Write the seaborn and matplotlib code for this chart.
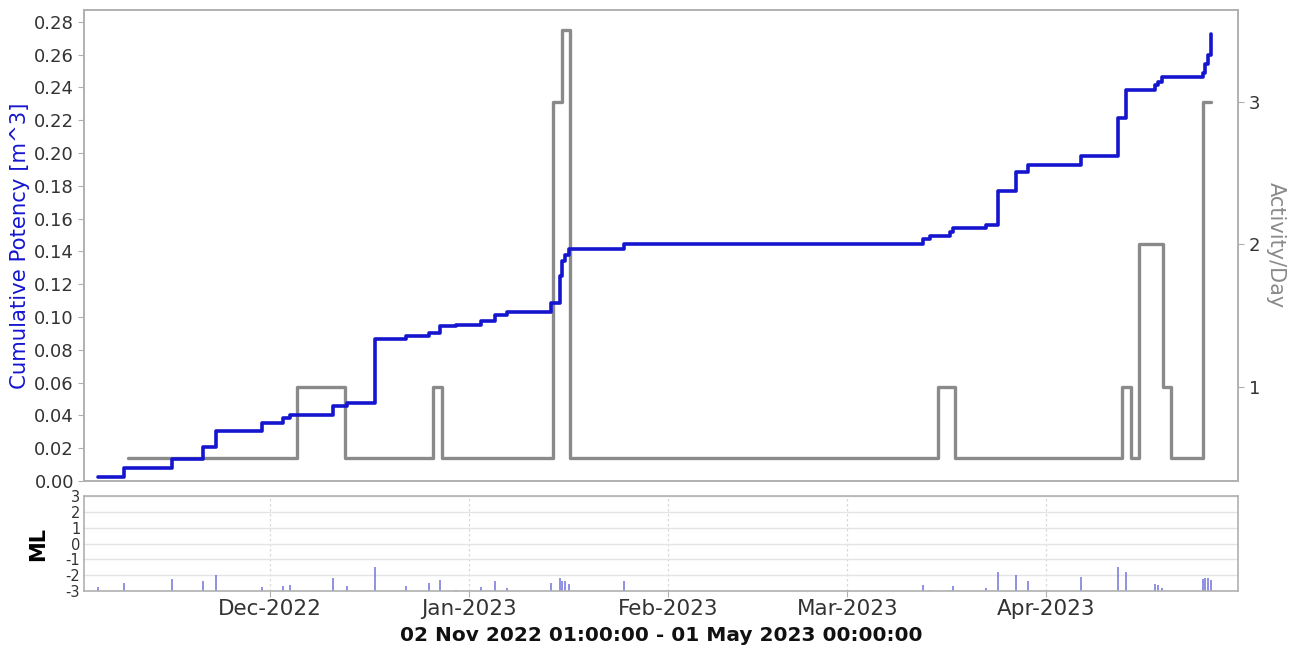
import matplotlib
matplotlib.use("Agg")
import matplotlib.pyplot as plt
import matplotlib.dates as mdates
import pandas as pd
import seaborn as sns

# Events: time, local magnitude, cumulative potency after event
event_times = [
    "2022-11-04 04:00", "2022-11-08 05:00", "2022-11-15 16:00", "2022-11-20 12:00",
    "2022-11-22 15:00", "2022-11-29 16:00", "2022-12-02 23:00", "2022-12-04 02:00",
    "2022-12-10 20:00", "2022-12-12 23:00", "2022-12-17 09:00", "2022-12-22 04:00",
    "2022-12-25 17:00", "2022-12-27 11:00", "2022-12-29 23:00", "2023-01-02 23:00",
    "2023-01-05 01:00", "2023-01-06 23:00", "2023-01-13 18:00", "2023-01-15 04:00",
    "2023-01-15 13:00", "2023-01-16 00:00", "2023-01-16 16:00", "2023-01-25 06:00",
    "2023-03-12 21:00", "2023-03-13 23:00", "2023-03-16 23:00", "2023-03-17 11:00",
    "2023-03-22 16:00", "2023-03-24 11:00", "2023-03-27 08:00", "2023-03-29 04:00",
    "2023-04-06 10:00", "2023-04-12 07:00", "2023-04-13 13:00", "2023-04-17 23:00",
    "2023-04-18 12:00", "2023-04-19 00:00", "2023-04-25 12:00", "2023-04-25 18:00",
    "2023-04-26 07:00", "2023-04-26 19:00",
]
ml_values = [
    -2.75, -2.47, -2.26, -2.36, -2.0, -2.72, -2.7, -2.65,
    -2.2, -2.7, -1.47, -2.7, -2.5, -2.3, -2.95, -2.75,
    -2.4, -2.8, -2.5, -2.15, -2.35, -2.4, -2.55, -2.35,
    -2.65, -2.95, -2.95, -2.7, -2.8, -1.83, -1.98, -2.36,
    -2.1, -1.5, -1.83, -2.57, -2.65, -2.8, -2.25, -2.2,
    -2.2, -2.3,
]
cum_potency = [
    0.0024, 0.0077, 0.0132, 0.0209, 0.0304, 0.0355, 0.0385, 0.0400,
    0.0457, 0.0477, 0.0866, 0.0887, 0.0903, 0.0943, 0.0953, 0.0974,
    0.1010, 0.1029, 0.1086, 0.1250, 0.1340, 0.1380, 0.1417, 0.1446,
    0.1475, 0.1495, 0.1520, 0.1540, 0.1558, 0.1770, 0.1883, 0.1924,
    0.1980, 0.2215, 0.2385, 0.2414, 0.2436, 0.2465, 0.2490, 0.2540,
    0.2597, 0.2728,
]

# Activity per day (step changes)
activity_times = [
    "2022-11-08 19:00", "2022-12-05 03:00", "2022-12-12 16:00", "2022-12-26 08:00",
    "2022-12-27 18:00", "2023-01-14 03:00", "2023-01-15 11:00", "2023-01-16 18:00",
    "2023-03-15 04:00", "2023-03-17 18:00", "2023-04-12 22:00", "2023-04-14 05:00",
    "2023-04-15 11:00", "2023-04-19 06:00", "2023-04-20 13:00", "2023-04-25 12:00",
    "2023-04-26 19:00",
]
activity_values = [0.5, 1, 0.5, 1, 0.5, 3, 3.5, 0.5, 1, 0.5, 1, 0.5, 2, 1, 0.5, 3, 3]

df_ev = pd.DataFrame({"time": pd.to_datetime(event_times), "ml": ml_values,
                      "potency": cum_potency})
df_act = pd.DataFrame({"time": pd.to_datetime(activity_times), "activity": activity_values})

sns.set_style("white")
plt.rcParams["font.family"] = ["DejaVu Sans"]
plt.rcParams["axes.unicode_minus"] = False

spine_c = "#b0b0b0"
blue = "#1515d0"
grey = "#8a8a8a"

fig = plt.figure(figsize=(12.96, 6.5), dpi=100)
ax = fig.add_axes([0.0651, 0.26, 0.8905, 0.7246])
ax2 = ax.twinx()
axm = fig.add_axes([0.0651, 0.0908, 0.8905, 0.146], sharex=ax)

# activity (behind)
sns.lineplot(data=df_act, x="time", y="activity", ax=ax2, color=grey, lw=2.4,
             drawstyle="steps-post", estimator=None, legend=False)
# cumulative potency
sns.lineplot(data=df_ev, x="time", y="potency", ax=ax, color=blue, lw=2.6,
             drawstyle="steps-post", estimator=None, legend=False, zorder=5)
ax.set_zorder(ax2.get_zorder() + 1)
ax.patch.set_visible(False)

xmin = pd.Timestamp("2022-11-02 01:00")
xmax = pd.Timestamp("2023-05-01 00:00")
ax.set_xlim(xmin, xmax)
ax.set_ylim(0, 0.2872)
ax.set_yticks([i * 0.02 for i in range(15)])
ax.yaxis.set_major_formatter(matplotlib.ticker.FormatStrFormatter("%.2f"))
ax2.set_ylim(0.337, 3.642)
ax2.set_yticks([1, 2, 3])

ax.set_ylabel("Cumulative Potency [m^3]", color=blue, fontsize=15.3)
ax.yaxis.set_label_coords(-0.047, 0.5)
ax2.set_ylabel("Activity/Day", color=grey, fontsize=15, rotation=270)
ax2.yaxis.set_label_coords(1.041, 0.5)
ax.set_xlabel("")
ax.tick_params(axis="x", bottom=False, labelbottom=False)
ax.tick_params(axis="y", labelsize=13, colors="#333333", length=4, color=spine_c,
               left=True)
ax2.tick_params(axis="y", labelsize=13, colors="#333333", length=4, color=spine_c,
                right=True)
for a in (ax, ax2, axm):
    for s in a.spines.values():
        s.set_color(spine_c)
        s.set_linewidth(1.2)

# ML stems
axm.vlines(df_ev["time"], -3, df_ev["ml"], color="#7373dc", lw=1.1)
axm.set_ylim(-3, 3)
axm.set_yticks(range(-3, 4))
axm.grid(axis="y", color="#e4e4e4", lw=1)
axm.grid(axis="x", color="#d8d8d8", lw=0.9, ls=(0, (2, 2)))
axm.set_ylabel("ML", fontsize=15, fontweight="bold", color="black")
axm.yaxis.set_label_coords(-0.031, 0.5)
axm.tick_params(axis="y", labelsize=10.5, colors="#333333", length=0, pad=3)
axm.tick_params(axis="x", labelsize=15.5, colors="#333333", length=4, color=spine_c,
                bottom=True, pad=2)
axm.xaxis.set_major_locator(mdates.MonthLocator(bymonth=[12, 1, 2, 3, 4]))
axm.xaxis.set_major_formatter(mdates.DateFormatter("%b-%Y"))
axm.set_xlabel("02 Nov 2022 01:00:00 - 01 May 2023 00:00:00", fontsize=14.5,
               fontweight="bold", color="#111111", labelpad=5)

fig.savefig("out.png", dpi=100)
